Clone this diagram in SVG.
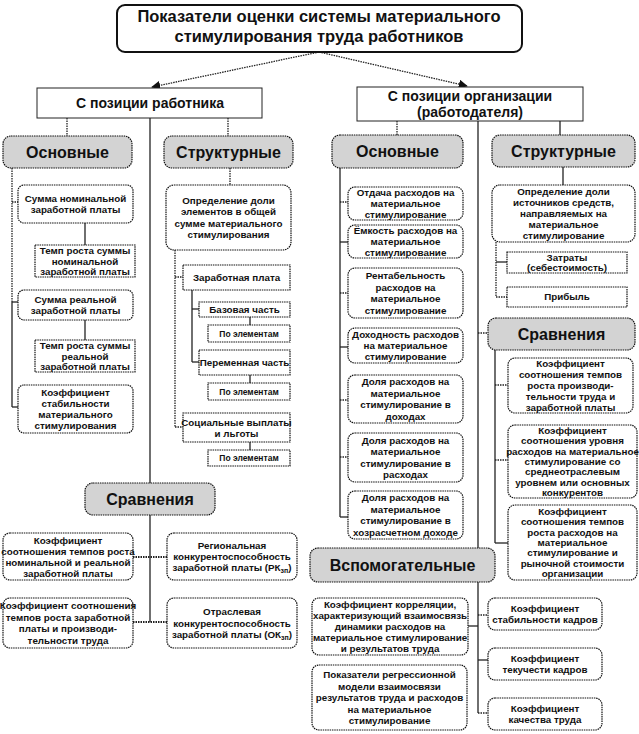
<svg xmlns="http://www.w3.org/2000/svg" width="639" height="734" viewBox="0 0 639 734">
<style>
.t{font-family:"Liberation Sans",Arial,sans-serif;font-weight:bold;text-anchor:middle;fill:#111}
.s{font-size:9.8px}
.p{font-size:8.5px}
.h{font-size:16px}
.m{font-size:14px}
.ti{font-size:16.5px}
.box{fill:#fff;stroke:#111;stroke-width:1.2;stroke-dasharray:1.5 0.8}
.hdr{fill:#d3d3d3;stroke:#111;stroke-width:1.2;stroke-dasharray:1.5 0.8}
.ln{stroke:#222;stroke-width:1.3;fill:none}
.dl{stroke:#222;stroke-width:1.3;fill:none;stroke-dasharray:1.5 1}
.db{stroke:#222;stroke-width:2.2;fill:none;stroke-dasharray:1.5 1}
</style>
<defs>
<marker id="ah" viewBox="0 0 10 10" refX="9" refY="5" markerWidth="7" markerHeight="7" orient="auto">
<path d="M0,0 L10,5 L0,10 z" fill="#111"/>
</marker>
</defs>
<rect width="639" height="734" fill="#fff"/>

<g id="connectors">
<line class="dl" x1="319" y1="52" x2="152" y2="87" marker-end="url(#ah)"/>
<line class="dl" x1="319" y1="52" x2="467" y2="86" marker-end="url(#ah)"/>
<line class="dl" x1="67" y1="118" x2="67" y2="136"/>
<line class="ln" x1="150" y1="118" x2="150" y2="483"/>
<line class="dl" x1="228" y1="118" x2="228" y2="136"/>
<line class="dl" x1="12" y1="168" x2="12" y2="302"/>
<line class="ln" x1="12" y1="302" x2="12" y2="407"/>
<line class="dl" x1="12" y1="202" x2="18" y2="202"/>
<line class="ln" x1="12" y1="302" x2="18" y2="302"/>
<line class="ln" x1="12" y1="407" x2="18" y2="407"/>
<line class="ln" x1="85" y1="223" x2="85" y2="245"/>
<line class="ln" x1="85" y1="320" x2="85" y2="340"/>
<line class="dl" x1="230" y1="168" x2="230" y2="185"/>
<line class="dl" x1="175" y1="250" x2="175" y2="427"/>
<line class="dl" x1="175" y1="277" x2="183" y2="277"/>
<line class="dl" x1="175" y1="427" x2="183" y2="427"/>
<line class="ln" x1="192" y1="290" x2="192" y2="362"/>
<line class="ln" x1="192" y1="309" x2="199" y2="309"/>
<line class="ln" x1="192" y1="362" x2="199" y2="362"/>
<line class="ln" x1="250" y1="317" x2="250" y2="325"/>
<line class="ln" x1="250" y1="375" x2="250" y2="383"/>
<line class="ln" x1="250" y1="442" x2="250" y2="450"/>
<line class="ln" x1="150" y1="515" x2="150" y2="622"/>
<line class="db" x1="133" y1="557" x2="167" y2="557"/>
<line class="db" x1="133" y1="622" x2="167" y2="622"/>
<line class="dl" x1="397" y1="121" x2="397" y2="135"/>
<line class="ln" x1="340" y1="168" x2="340" y2="517"/>
<line class="dl" x1="340" y1="202" x2="348" y2="202"/>
<line class="ln" x1="340" y1="242" x2="348" y2="242"/>
<line class="dl" x1="340" y1="293" x2="348" y2="293"/>
<line class="ln" x1="340" y1="347" x2="348" y2="347"/>
<line class="dl" x1="340" y1="400" x2="348" y2="400"/>
<line class="dl" x1="340" y1="457" x2="348" y2="457"/>
<line class="ln" x1="340" y1="517" x2="348" y2="517"/>
<line class="ln" x1="560" y1="121" x2="560" y2="135"/>
<line class="ln" x1="563" y1="167" x2="563" y2="185"/>
<line class="dl" x1="496" y1="242" x2="496" y2="297"/>
<line class="ln" x1="496" y1="262" x2="507" y2="262"/>
<line class="dl" x1="496" y1="297" x2="507" y2="297"/>
<line class="ln" x1="478" y1="121" x2="478" y2="713"/>
<line class="dl" x1="478" y1="333" x2="488" y2="333"/>
<line class="ln" x1="495" y1="350" x2="495" y2="543"/>
<line class="dl" x1="495" y1="385" x2="508" y2="385"/>
<line class="dl" x1="495" y1="460" x2="508" y2="460"/>
<line class="ln" x1="495" y1="543" x2="508" y2="543"/>
<line class="ln" x1="468" y1="626" x2="478" y2="626"/>
<line class="dl" x1="478" y1="615" x2="488" y2="615"/>
<line class="ln" x1="478" y1="660" x2="488" y2="660"/>
<line class="dl" x1="478" y1="713" x2="488" y2="713"/>
</g>

<g id="title">
<rect x="117" y="5" width="405" height="47" rx="8" fill="#fff" stroke="#111" stroke-width="2"/>
<text class="t ti" x="319" y="22"><tspan x="319">Показатели оценки системы материального</tspan><tspan x="319" dy="20">стимулирования труда работников</tspan></text>
</g>
<g id="pos-worker">
<rect x="37" y="88" width="225" height="30" fill="#fff" stroke="#222" stroke-width="1"/>
<text class="t m" x="150" y="108">С позиции работника</text>
</g>
<g id="pos-org">
<rect x="357" y="87" width="226" height="34" fill="#fff" stroke="#222" stroke-width="1"/>
<text class="t m" x="470" y="101"><tspan x="470">С позиции организации</tspan><tspan x="470" dy="16">(работодателя)</tspan></text>
</g>

<g id="l-osn"><rect class="hdr" x="3" y="136" width="129" height="32" rx="8"/><text class="t h" x="67.5" y="157.5">Основные</text></g>
<g id="l-str"><rect class="hdr" x="164" y="136" width="129" height="32" rx="8"/><text class="t h" x="228.5" y="157.5">Структурные</text></g>
<g id="r-osn"><rect class="hdr" x="332" y="135" width="131" height="33" rx="8"/><text class="t h" x="397.5" y="157">Основные</text></g>
<g id="r-str"><rect class="hdr" x="492" y="135" width="143" height="32" rx="8"/><text class="t h" x="563.5" y="156.5">Структурные</text></g>
<g id="r-srav"><rect class="hdr" x="488" y="318" width="147" height="32" rx="8"/><text class="t h" x="561.5" y="339.5">Сравнения</text></g>
<g id="l-srav"><rect class="hdr" x="85" y="483" width="130" height="32" rx="8"/><text class="t h" x="150" y="504.5">Сравнения</text></g>
<g id="vspom"><rect class="hdr" x="310" y="548" width="185" height="34" rx="8"/><text class="t h" x="402.5" y="570.5">Вспомогательные</text></g>

<g id="n1"><rect class="box" x="18" y="185" width="115" height="38" rx="6"/><text class="t s" y="202"><tspan x="75.5">Сумма номинальной</tspan><tspan x="75.5" dy="11">заработной платы</tspan></text></g>
<g id="n2"><rect class="box" x="35" y="245" width="100" height="32"/><text class="t s" y="254"><tspan x="85">Темп роста суммы</tspan><tspan x="85" dy="10.5">номинальной</tspan><tspan x="85" dy="10.5">заработной платы</tspan></text></g>
<g id="n3"><rect class="box" x="18" y="290" width="115" height="30" rx="6"/><text class="t s" y="303"><tspan x="75.5">Сумма реальной</tspan><tspan x="75.5" dy="11">заработной платы</tspan></text></g>
<g id="n4"><rect class="box" x="35" y="340" width="100" height="32"/><text class="t s" y="349"><tspan x="85">Темп роста суммы</tspan><tspan x="85" dy="10.5">реальной</tspan><tspan x="85" dy="10.5">заработной платы</tspan></text></g>
<g id="n5"><rect class="box" x="18" y="385" width="115" height="48" rx="6"/><text class="t s" y="396"><tspan x="75.5">Коэффициент</tspan><tspan x="75.5" dy="11">стабильности</tspan><tspan x="75.5" dy="11">материального</tspan><tspan x="75.5" dy="11">стимулирования</tspan></text></g>

<g id="s1"><rect class="box" x="166" y="185" width="125" height="65" rx="8"/><text class="t s" y="203.8"><tspan x="228.5">Определение доли</tspan><tspan x="228.5" dy="11.5">элементов в общей</tspan><tspan x="228.5" dy="11.5">сумме материального</tspan><tspan x="228.5" dy="11.5">стимулирования</tspan></text></g>
<g id="s2"><rect class="box" x="183" y="265" width="107" height="25"/><text class="t s" x="236.5" y="281">Заработная плата</text></g>
<g id="s3"><rect class="box" x="199" y="302" width="91" height="15"/><text class="t s" x="244.5" y="313">Базовая часть</text></g>
<g id="s4"><rect class="box" x="208" y="325" width="82" height="17"/><text class="t p" x="249" y="336.5">По элементам</text></g>
<g id="s5"><rect class="box" x="199" y="350" width="91" height="25"/><text class="t s" x="244.5" y="366">Переменная часть</text></g>
<g id="s6"><rect class="box" x="208" y="383" width="82" height="17"/><text class="t p" x="249" y="394.5">По элементам</text></g>
<g id="s7"><rect class="box" x="183" y="413" width="107" height="29"/><text class="t s" y="425.5"><tspan x="236.5">Социальные выплаты</tspan><tspan x="236.5" dy="11">и льготы</tspan></text></g>
<g id="s8"><rect class="box" x="208" y="450" width="82" height="16"/><text class="t p" x="249" y="461">По элементам</text></g>

<g id="o1"><rect class="box" x="348" y="187" width="115" height="33" rx="7"/><text class="t s" y="196"><tspan x="405.5">Отдача расходов на</tspan><tspan x="405.5" dy="11">материальное</tspan><tspan x="405.5" dy="11">стимулирование</tspan></text></g>
<g id="o2"><rect class="box" x="348" y="225" width="115" height="33" rx="7"/><text class="t s" y="234"><tspan x="405.5">Ёмкость расходов на</tspan><tspan x="405.5" dy="11">материальное</tspan><tspan x="405.5" dy="11">стимулирование</tspan></text></g>
<g id="o3"><rect class="box" x="348" y="268" width="115" height="50" rx="7"/><text class="t s" y="279.3"><tspan x="405.5">Рентабельность</tspan><tspan x="405.5" dy="11.5">расходов на</tspan><tspan x="405.5" dy="11.5">материальное</tspan><tspan x="405.5" dy="11.5">стимулирование</tspan></text></g>
<g id="o4"><rect class="box" x="348" y="328" width="115" height="35" rx="7"/><text class="t s" y="338"><tspan x="405.5">Доходность расходов</tspan><tspan x="405.5" dy="11">на материальное</tspan><tspan x="405.5" dy="11">стимулирование</tspan></text></g>
<g id="o5"><rect class="box" x="348" y="375" width="115" height="48" rx="7"/><text class="t s" y="385.3"><tspan x="405.5">Доля расходов на</tspan><tspan x="405.5" dy="11.5">материальное</tspan><tspan x="405.5" dy="11.5">стимулирование в</tspan><tspan x="405.5" dy="11.5">доходах</tspan></text></g>
<g id="o6"><rect class="box" x="348" y="433" width="115" height="49" rx="7"/><text class="t s" y="443.8"><tspan x="405.5">Доля  расходов на</tspan><tspan x="405.5" dy="11.5">материальное</tspan><tspan x="405.5" dy="11.5">стимулирование в</tspan><tspan x="405.5" dy="11.5">расходах</tspan></text></g>
<g id="o7"><rect class="box" x="348" y="491" width="115" height="48" rx="7"/><text class="t s" y="501.3"><tspan x="405.5">Доля расходов на</tspan><tspan x="405.5" dy="11.5">материальное</tspan><tspan x="405.5" dy="11.5">стимулирование в</tspan><tspan x="405.5" dy="11.5">хозрасчетном доходе</tspan></text></g>

<g id="t1"><rect class="box" x="492" y="185" width="143" height="57" rx="8"/><text class="t s" y="195"><tspan x="563.5">Определение доли</tspan><tspan x="563.5" dy="11">источников средств,</tspan><tspan x="563.5" dy="11">направляемых на</tspan><tspan x="563.5" dy="11">материальное</tspan><tspan x="563.5" dy="11">стимулирование</tspan></text></g>
<g id="t2"><rect class="box" x="507" y="252" width="120" height="21"/><text class="t s" y="261"><tspan x="567">Затраты</tspan><tspan x="567" dy="10">(себестоимость)</tspan></text></g>
<g id="t3"><rect class="box" x="507" y="287" width="120" height="20"/><text class="t s" x="567" y="300.4">Прибыль</text></g>

<g id="c1"><rect class="box" x="508" y="358" width="125" height="55" rx="7"/><text class="t s" y="367.4"><tspan x="570.5">Коэффициент</tspan><tspan x="570.5" dy="10.8">соотношения темпов</tspan><tspan x="570.5" dy="10.8">роста производи-</tspan><tspan x="570.5" dy="10.8">тельности труда и</tspan><tspan x="570.5" dy="10.8">заработной платы</tspan></text></g>
<g id="c2"><rect class="box" x="508" y="425" width="129" height="73" rx="7"/><text class="t s" y="434.1"><tspan x="572.5">Коэффициент</tspan><tspan x="572.5" dy="10.3">соотношения уровня</tspan><tspan x="572.5" dy="10.3">расходов на материальное</tspan><tspan x="572.5" dy="10.3">стимулирование со</tspan><tspan x="572.5" dy="10.3">среднеотраслевым</tspan><tspan x="572.5" dy="10.3">уровнем или основных</tspan><tspan x="572.5" dy="10.3">конкурентов</tspan></text></g>
<g id="c3"><rect class="box" x="508" y="505" width="129" height="75" rx="7"/><text class="t s" y="515.1"><tspan x="572.5">Коэффициент</tspan><tspan x="572.5" dy="10.3">соотношения темпов</tspan><tspan x="572.5" dy="10.3">роста расходов на</tspan><tspan x="572.5" dy="10.3">материальное</tspan><tspan x="572.5" dy="10.3">стимулирование и</tspan><tspan x="572.5" dy="10.3">рыночной стоимости</tspan><tspan x="572.5" dy="10.3">организации</tspan></text></g>

<g id="v1"><rect class="box" x="312" y="598" width="156" height="57" rx="7"/><text class="t s" y="608"><tspan x="390">Коэффициент корреляции,</tspan><tspan x="390" dy="11">характеризующий взаимосвязь</tspan><tspan x="390" dy="11">динамики расходов на</tspan><tspan x="390" dy="11">материальное стимулирование</tspan><tspan x="390" dy="11">и результатов труда</tspan></text></g>
<g id="v2"><rect class="box" x="312" y="665" width="155" height="65" rx="7"/><text class="t s" y="678"><tspan x="389.5">Показатели регрессионной</tspan><tspan x="389.5" dy="11.5">модели взаимосвязи</tspan><tspan x="389.5" dy="11.5">результатов труда и расходов</tspan><tspan x="389.5" dy="11.5">на материальное</tspan><tspan x="389.5" dy="11.5">стимулирование</tspan></text></g>
<g id="k1"><rect class="box" x="488" y="598" width="114" height="32" rx="7"/><text class="t s" y="612"><tspan x="545">Коэффициент</tspan><tspan x="545" dy="11">стабильности кадров</tspan></text></g>
<g id="k2"><rect class="box" x="488" y="648" width="114" height="32" rx="7"/><text class="t s" y="662"><tspan x="545">Коэффициент</tspan><tspan x="545" dy="11">текучести кадров</tspan></text></g>
<g id="k3"><rect class="box" x="488" y="698" width="114" height="32" rx="7"/><text class="t s" y="712"><tspan x="545">Коэффициент</tspan><tspan x="545" dy="11">качества  труда</tspan></text></g>

<g id="ls1"><rect class="box" x="3" y="533" width="130" height="47" rx="7"/><text class="t s" y="543.5"><tspan x="68">Коэффициент</tspan><tspan x="68" dy="11">соотношения темпов роста</tspan><tspan x="68" dy="11">номинальной и реальной</tspan><tspan x="68" dy="11">заработной платы</tspan></text></g>
<g id="ls2"><rect class="box" x="167" y="533" width="130" height="47" rx="7"/><text class="t s" y="549"><tspan x="232">Региональная</tspan><tspan x="232" dy="11">конкурентоспособность</tspan><tspan x="232" dy="11">заработной платы  (РК<tspan font-size="7" dy="2">зп</tspan><tspan dy="-2">)</tspan></tspan></text></g>
<g id="ls3"><rect class="box" x="3" y="598" width="130" height="50" rx="7"/><text class="t s" y="609.3"><tspan x="68">Коэффициент соотношения</tspan><tspan x="68" dy="11.5">темпов роста заработной</tspan><tspan x="68" dy="11.5">платы и производи-</tspan><tspan x="68" dy="11.5">тельности труда</tspan></text></g>
<g id="ls4"><rect class="box" x="167" y="598" width="130" height="50" rx="7"/><text class="t s" y="615"><tspan x="232">Отраслевая</tspan><tspan x="232" dy="11.5">конкурентоспособность</tspan><tspan x="232" dy="11.5">заработной платы (ОК<tspan font-size="7" dy="2">зп</tspan><tspan dy="-2">)</tspan></tspan></text></g>
</svg>
